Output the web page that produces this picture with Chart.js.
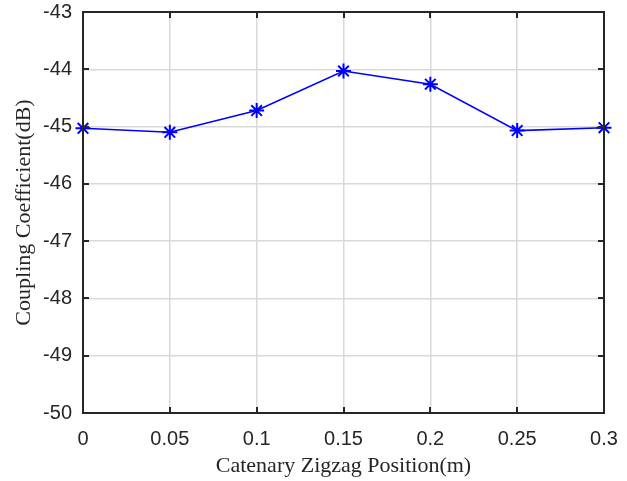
<!DOCTYPE html>
<html>
<head>
<meta charset="utf-8">
<script src="https://cdn.jsdelivr.net/npm/chart.js@4"></script>
<style>
  html, body { margin: 0; padding: 0; background: #fff; }
  #wrap { width: 627px; height: 481px; }
</style>
</head>
<body>
<div id="wrap"><canvas id="c" width="627" height="481"></canvas></div>
<script>
// coupling coefficient vs catenary zigzag offset
const xPositions = [0, 0.05, 0.1, 0.15, 0.2, 0.25, 0.3];
const couplingDb = [-45.03, -45.10, -44.72, -44.03, -44.26, -45.07, -45.02];
const yRange = [-50, -43];
const xRange = [0, 0.3];

const AXIS = "#262626", GRID = "#d9d9d9", BLUE = "#0000ff";

// MATLAB-ish box with inward ticks
const boxPlugin = {
  id: "box",
  afterDatasetsDraw(chart) {
    const { ctx, chartArea: a, scales } = chart;
    ctx.save();
    ctx.strokeStyle = AXIS;
    ctx.lineWidth = 2;
    ctx.beginPath();
    scales.x.ticks.forEach((t) => {
      const px = Math.round(scales.x.getPixelForValue(t.value));
      ctx.moveTo(px, a.bottom); ctx.lineTo(px, a.bottom - 6);
      ctx.moveTo(px, a.top); ctx.lineTo(px, a.top + 6);
    });
    scales.y.ticks.forEach((t) => {
      const py = Math.round(scales.y.getPixelForValue(t.value));
      ctx.moveTo(a.left, py); ctx.lineTo(a.left + 6, py);
      ctx.moveTo(a.right, py); ctx.lineTo(a.right - 6, py);
    });
    ctx.stroke();
    ctx.strokeRect(a.left, a.top, a.right - a.left, a.bottom - a.top);
    ctx.restore();
  }
};

new Chart(document.getElementById("c"), {
  type: "line",
  data: {
    datasets: [{
      data: xPositions.map((x, i) => ({ x, y: couplingDb[i] })),
      borderColor: BLUE,
      backgroundColor: BLUE,
      borderWidth: 1.6,
      pointStyle: "star",
      pointRadius: 7.5,
      pointBorderWidth: 2,
      pointBorderColor: BLUE,
      tension: 0,
      clip: false
    }]
  },
  options: {
    responsive: false,
    animation: false,
    layout: { padding: { top: 12, right: 23, left: 0, bottom: 0 } },
    plugins: { legend: { display: false }, tooltip: { enabled: false } },
    scales: {
      x: {
        type: "linear",
        min: xRange[0], max: xRange[1],
        afterFit: (s) => { s.height = 68; s.paddingLeft = 0; s.paddingRight = 0; },
        grid: { color: GRID, lineWidth: 1.5, drawTicks: false },
        border: { display: false },
        ticks: {
          stepSize: 0.05, padding: 14, color: AXIS,
          font: { family: "Liberation Sans", size: 20 },
          callback: (v) => String(parseFloat(v.toFixed(2)))
        },
        title: {
          display: true, text: "Catenary Zigzag Position(m)", color: AXIS,
          font: { family: "Liberation Serif", size: 22 },
          padding: { top: 0, bottom: 2 }
        }
      },
      y: {
        min: yRange[0], max: yRange[1],
        afterFit: (s) => { s.width = 83; s.paddingTop = 0; s.paddingBottom = 0; },
        grid: { color: GRID, lineWidth: 1.5, drawTicks: false },
        border: { display: false },
        ticks: {
          stepSize: 1, padding: 11, color: AXIS,
          font: { family: "Liberation Sans", size: 20 }
        },
        title: {
          display: true, text: "Coupling Coefficient(dB)", color: AXIS,
          font: { family: "Liberation Serif", size: 22 },
          padding: { top: 11, bottom: 0 }
        }
      }
    }
  },
  plugins: [boxPlugin]
});
</script>
</body>
</html>
